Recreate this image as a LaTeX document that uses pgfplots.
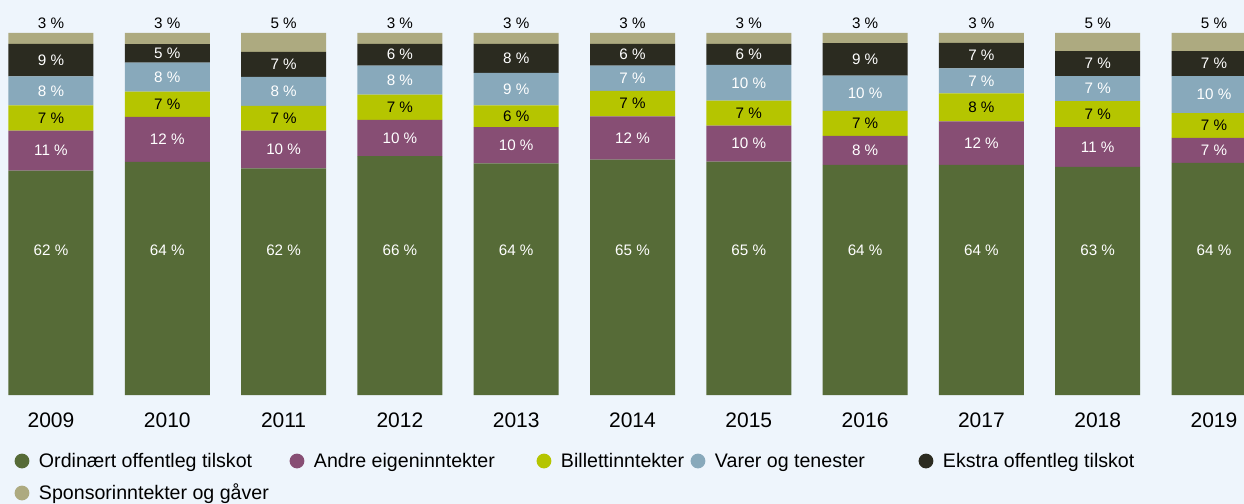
\documentclass[border=0pt]{standalone}
\usepackage{pgfplots}
\pgfplotsset{compat=1.18}
\usepackage{pgfplotstable}
\usepackage{fontspec}
\setmainfont{Liberation Sans}

\definecolor{bg}{HTML}{EEF5FC}
\definecolor{cOrd}{HTML}{566B37}
\definecolor{cAndre}{HTML}{874E74}
\definecolor{cBill}{HTML}{B5C500}
\definecolor{cVarer}{HTML}{88A9BB}
\definecolor{cEkstra}{HTML}{2B2B20}
\definecolor{cSpons}{HTML}{ADAA80}

% share of income per year, bottom to top (segment size, then printed label)
\pgfplotstableread{
x year ord andre bill varer ekstra spons lo la lb lv le ls
0 2009 62 11 7 8 9 3 62 11 7 8 9 3
1 2010 64.4 12.4 7.0 8.0 5.1 3.1 64 12 7 8 5 3
2 2011 62.6 10.4 6.9 8.0 6.9 5.2 62 10 7 8 7 5
3 2012 66 10 7 8 6 3 66 10 7 8 6 3
4 2013 64 10 6 9 8 3 64 10 6 9 8 3
5 2014 65 12 7 7 6 3 65 12 7 7 6 3
6 2015 64.5 9.9 6.9 9.9 5.8 3.0 65 10 7 10 6 3
7 2016 63.6 8.0 6.9 9.7 9.0 2.8 64 8 7 10 9 3
8 2017 63.6 12.0 7.7 6.9 7.1 2.7 64 12 8 7 7 3
9 2018 63.0 11.0 7.2 6.9 6.9 5.0 63 11 7 7 7 5
10 2019 64.1 6.9 6.9 10.2 6.9 5.0 64 7 7 10 7 5
}\datatable

\pgfplotsset{
  frame/.style={at={(0pt,0pt)}, anchor=south west,
    scale only axis, width=622pt, height=181pt,
    xmin=-0.4385, xmax=10.258, ymin=0, ymax=100},
  dotleg/.style={legend image code/.code={%
    \fill[#1] (0pt,0pt) circle (3.7pt);
    \path (-3.7pt,0pt) (8.5pt,0pt);}},
  lab/.style={draw=none, mark=none,
    nodes near coords style={text=#1}},
}

\begin{document}
\begin{tikzpicture}
\fill[bg] (0pt,-54.5pt) rectangle (622pt,197.5pt);
\begin{axis}[
  frame,
  ybar stacked, bar width=42.5pt,
  axis line style={draw=none},
  major tick length=0pt,
  ytick=\empty,
  xtick={0,...,10},
  xticklabels={2009,2010,2011,2012,2013,2014,2015,2016,2017,2018,2019},
  xticklabel style={anchor=north, inner sep=0pt, yshift=-8.5pt,
    font=\fontsize{10.5}{12}\selectfont},
  legend columns=5,
  legend style={at={(0.01174,-0.1597)}, anchor=north west,
    draw=none, fill=none, inner sep=0pt, outer sep=0pt,
    row sep=7.8pt, column sep=0pt,
    cells={anchor=west},
    nodes={inner sep=0pt, text height=7.5pt, text depth=0.7pt},
    font=\fontsize{9.8}{12}\selectfont},
]
\addplot[fill=cOrd, draw=none, dotleg=cOrd] table[x=x, y=ord] {\datatable};
\addlegendentry{\makebox[125.3pt][l]{Ordinært offentleg tilskot}}
\addplot[fill=cAndre, draw=none, dotleg=cAndre] table[x=x, y=andre] {\datatable};
\addlegendentry{\makebox[111.3pt][l]{Andre eigeninntekter}}
\addplot[fill=cBill, draw=none, dotleg=cBill] table[x=x, y=bill] {\datatable};
\addlegendentry{\makebox[64.8pt][l]{Billettinntekter}}
\addplot[fill=cVarer, draw=none, dotleg=cVarer] table[x=x, y=varer] {\datatable};
\addlegendentry{\makebox[101.8pt][l]{Varer og tenester}}
\addplot[fill=cEkstra, draw=none, dotleg=cEkstra] table[x=x, y=ekstra] {\datatable};
\addlegendentry{Ekstra offentleg tilskot}
\addplot[fill=cSpons, draw=none, dotleg=cSpons] table[x=x, y=spons] {\datatable};
\addlegendentry{Sponsorinntekter og gåver}
\end{axis}

% value labels, in the middle of each segment
\begin{axis}[
  frame, hide axis, clip=false,
  point meta=explicit,
  nodes near coords={\pgfmathprintnumber[assume math mode=true]{\pgfplotspointmeta}~\%},
  every node near coord/.append style={anchor=center, inner sep=0pt,
    font=\fontsize{7.6}{9}\selectfont},
]
\addplot[lab=white] table[x=x, y expr=40, meta=lo] {\datatable};
\addplot[lab=white] table[x=x, y expr=\thisrow{ord}+0.5*\thisrow{andre},
  meta=la] {\datatable};
\addplot[lab=black] table[x=x,
  y expr=\thisrow{ord}+\thisrow{andre}+0.5*\thisrow{bill},
  meta=lb] {\datatable};
\addplot[lab=white] table[x=x,
  y expr=\thisrow{ord}+\thisrow{andre}+\thisrow{bill}+0.5*\thisrow{varer},
  meta=lv] {\datatable};
\addplot[lab=white] table[x=x,
  y expr=\thisrow{ord}+\thisrow{andre}+\thisrow{bill}+\thisrow{varer}+0.5*\thisrow{ekstra},
  meta=le] {\datatable};
\addplot[draw=none, mark=none,
  nodes near coords style={text=black, anchor=south, yshift=1.9pt}]
  table[x=x,
  y expr=\thisrow{ord}+\thisrow{andre}+\thisrow{bill}+\thisrow{varer}+\thisrow{ekstra}+\thisrow{spons},
  meta=ls] {\datatable};
\end{axis}
\pgfresetboundingbox
\useasboundingbox (0pt,-54.5pt) rectangle (622pt,197.5pt);
\end{tikzpicture}
\end{document}
